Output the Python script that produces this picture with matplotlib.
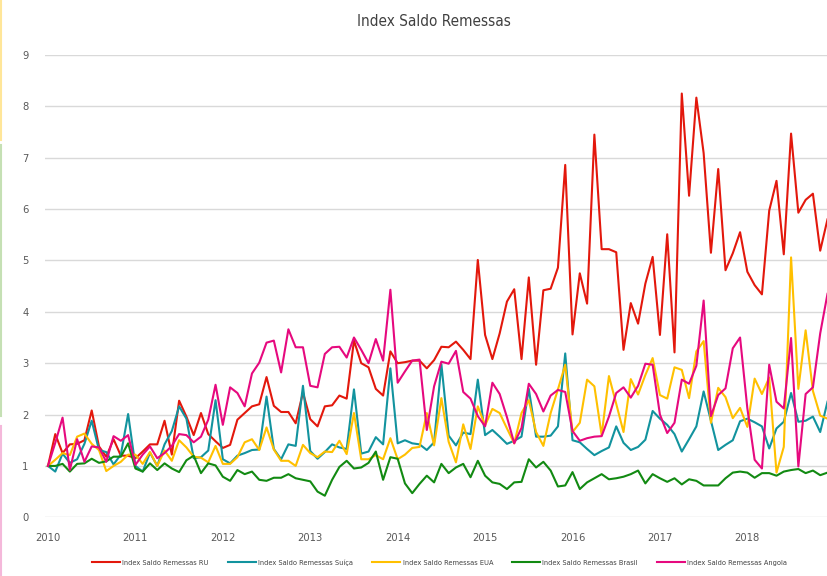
import matplotlib
matplotlib.use("Agg")
import matplotlib.pyplot as plt
from matplotlib.lines import Line2D
from matplotlib import font_manager

# valores mensais, jan 2010 - dez 2018
ru = [1.00, 1.62, 1.25, 1.42, 1.43, 1.50, 2.08, 1.38, 1.18, 1.52, 1.20, 1.20,
      1.15, 1.28, 1.42, 1.42, 1.88, 1.22, 2.27, 1.96, 1.60, 2.03, 1.62, 1.48,
      1.35, 1.41, 1.90, 2.03, 2.16, 2.20, 2.73, 2.17, 2.05, 2.05, 1.83, 2.43,
      1.91, 1.77, 2.16, 2.18, 2.37, 2.31, 3.44, 3.00, 2.92, 2.50, 2.37, 3.23,
      3.00, 3.02, 3.05, 3.05, 2.90, 3.06, 3.32, 3.31, 3.42, 3.26, 3.08, 5.01,
      3.55, 3.08, 3.58, 4.20, 4.44, 3.08, 4.67, 2.97, 4.42, 4.45, 4.86, 6.86,
      3.56, 4.75, 4.16, 7.45, 5.22, 5.22, 5.16, 3.26, 4.17, 3.77, 4.55, 5.07,
      3.55, 5.51, 3.21, 8.25, 6.26, 8.17, 7.09, 5.15, 6.78, 4.81, 5.14, 5.55,
      4.78, 4.52, 4.34, 5.97, 6.55, 5.12, 7.47, 5.93, 6.18, 6.30, 5.19, 5.80]
suica = [1.00, 0.89, 1.24, 1.06, 1.13, 1.43, 1.88, 1.31, 1.27, 1.03, 1.22, 2.01,
         1.00, 0.89, 1.26, 1.00, 1.42, 1.68, 2.16, 1.92, 1.15, 1.17, 1.30, 2.28,
         1.13, 1.05, 1.20, 1.25, 1.31, 1.32, 2.35, 1.33, 1.13, 1.42, 1.39, 2.56,
         1.29, 1.14, 1.27, 1.42, 1.36, 1.33, 2.49, 1.24, 1.28, 1.56, 1.42, 2.90,
         1.44, 1.50, 1.44, 1.42, 1.31, 1.46, 2.98, 1.59, 1.40, 1.65, 1.62, 2.68,
         1.60, 1.70, 1.57, 1.43, 1.49, 1.57, 2.50, 1.57, 1.57, 1.59, 1.77, 3.19,
         1.50, 1.46, 1.33, 1.21, 1.29, 1.36, 1.77, 1.45, 1.31, 1.37, 1.51, 2.07,
         1.92, 1.80, 1.62, 1.28, 1.52, 1.77, 2.45, 1.88, 1.31, 1.41, 1.50, 1.87,
         1.92, 1.85, 1.77, 1.34, 1.73, 1.86, 2.42, 1.86, 1.88, 1.96, 1.66, 2.25]
eua = [1.00, 1.12, 1.25, 1.21, 1.57, 1.63, 1.43, 1.31, 0.90, 1.00, 1.08, 1.22,
       1.22, 1.04, 1.27, 1.00, 1.30, 1.10, 1.50, 1.36, 1.18, 1.16, 1.07, 1.39,
       1.04, 1.04, 1.17, 1.46, 1.52, 1.31, 1.75, 1.32, 1.10, 1.10, 1.00, 1.41,
       1.25, 1.17, 1.28, 1.27, 1.49, 1.23, 2.03, 1.13, 1.13, 1.21, 1.13, 1.54,
       1.13, 1.22, 1.35, 1.37, 2.03, 1.40, 2.32, 1.47, 1.07, 1.81, 1.33, 2.16,
       1.79, 2.11, 2.03, 1.73, 1.44, 2.03, 2.28, 1.66, 1.39, 2.03, 2.49, 2.97,
       1.66, 1.84, 2.68, 2.55, 1.60, 2.75, 2.21, 1.66, 2.69, 2.39, 2.77, 3.10,
       2.38, 2.31, 2.92, 2.87, 2.32, 3.23, 3.43, 1.84, 2.52, 2.34, 1.93, 2.13,
       1.76, 2.70, 2.40, 2.72, 0.87, 1.37, 5.06, 2.50, 3.64, 2.46, 1.98, 1.92]
brasil = [1.00, 1.00, 1.04, 0.89, 1.04, 1.05, 1.14, 1.06, 1.09, 1.18, 1.18, 1.44,
          0.95, 0.89, 1.05, 0.92, 1.05, 0.95, 0.88, 1.11, 1.20, 0.86, 1.05, 1.01,
          0.79, 0.71, 0.92, 0.84, 0.89, 0.73, 0.71, 0.77, 0.77, 0.84, 0.76, 0.73,
          0.70, 0.50, 0.42, 0.73, 0.98, 1.10, 0.95, 0.97, 1.06, 1.28, 0.73, 1.17,
          1.14, 0.66, 0.47, 0.65, 0.81, 0.68, 1.04, 0.86, 0.97, 1.04, 0.78, 1.10,
          0.81, 0.68, 0.65, 0.55, 0.68, 0.69, 1.13, 0.97, 1.08, 0.91, 0.60, 0.62,
          0.88, 0.55, 0.68, 0.76, 0.84, 0.74, 0.76, 0.79, 0.84, 0.91, 0.66, 0.84,
          0.76, 0.69, 0.76, 0.64, 0.74, 0.71, 0.62, 0.62, 0.62, 0.76, 0.87, 0.89,
          0.87, 0.77, 0.86, 0.86, 0.81, 0.89, 0.92, 0.94, 0.86, 0.91, 0.82, 0.87]
angola = [1.00, 1.45, 1.94, 0.92, 1.52, 1.08, 1.38, 1.36, 1.08, 1.58, 1.49, 1.60,
          1.02, 1.22, 1.38, 1.15, 1.25, 1.39, 1.62, 1.60, 1.46, 1.57, 1.90, 2.58,
          1.80, 2.53, 2.42, 2.16, 2.80, 3.01, 3.40, 3.44, 2.82, 3.66, 3.31, 3.31,
          2.56, 2.53, 3.18, 3.31, 3.32, 3.11, 3.50, 3.26, 3.00, 3.47, 3.05, 4.43,
          2.62, 2.84, 3.05, 3.07, 1.70, 2.55, 3.03, 2.99, 3.24, 2.44, 2.31, 1.97,
          1.77, 2.62, 2.40, 1.95, 1.44, 1.74, 2.60, 2.40, 2.06, 2.37, 2.48, 2.44,
          1.68, 1.49, 1.54, 1.57, 1.58, 1.96, 2.42, 2.53, 2.33, 2.56, 2.99, 2.97,
          2.00, 1.64, 1.84, 2.68, 2.60, 2.95, 4.22, 1.97, 2.38, 2.51, 3.29, 3.50,
          2.12, 1.12, 0.95, 2.97, 2.25, 2.12, 3.49, 0.99, 2.40, 2.53, 3.58, 4.35]

anos = ['2010', '2011', '2012', '2013', '2014', '2015', '2016', '2017', '2018']
nomes = ['Index Saldo Remessas RU', 'Index Saldo Remessas Suíça', 'Index Saldo Remessas EUA',
         'Index Saldo Remessas Brasil', 'Index Saldo Remessas Angola']
cores = ['#E3180C', '#12939E', '#FFC000', '#128A12', '#E6097E']

# procura uma fonte estreita (condensed / narrow)
estreita = None
for f in font_manager.fontManager.ttflist:
    nome_f = f.name.lower()
    if ('narrow' in nome_f or 'condensed' in nome_f or
            str(f.stretch) in ('condensed', 'semi-condensed', 'extra-condensed', '700', '600')):
        if f.weight in ('normal', 400, 'regular', 'book') and f.style == 'normal':
            estreita = f.fname
            break

if estreita:
    fp_titulo = font_manager.FontProperties(fname=estreita, size=11)
    fp_ticks = font_manager.FontProperties(fname=estreita, size=8)
    fp_leg = font_manager.FontProperties(fname=estreita, size=5.3)
else:
    fp_titulo = font_manager.FontProperties(family='DejaVu Sans', size=9)
    fp_ticks = font_manager.FontProperties(family='DejaVu Sans', size=7)
    fp_leg = font_manager.FontProperties(family='DejaVu Sans', size=4.8)

fig = plt.figure(figsize=(8.28, 5.76), dpi=100)
ax = fig.add_axes([45/828, 58.7/576, 783/828, 462.3/576])

x = list(range(len(ru)))
for serie, nome, cor in zip([ru, suica, eua, brasil, angola], nomes, cores):
    ax.plot(x, serie, color=cor, lw=1.5, label=nome)

ax.set_xlim(-0.41, 107.07)
ax.set_ylim(0, 9)
ax.set_yticks(range(0, 10))
ax.set_xticks([12*i for i in range(len(anos))])
ax.set_xticklabels(anos)
for t in ax.get_xticklabels() + ax.get_yticklabels():
    t.set_fontproperties(fp_ticks)
ax.grid(axis='y', color='#D9D9D9', lw=1)
ax.set_axisbelow(True)
for s in ax.spines.values():
    s.set_visible(False)
ax.tick_params(axis='both', length=0, colors='#595959')
ax.tick_params(axis='y', pad=12)
ax.tick_params(axis='x', pad=11)

fig.text(0.524, 0.962, 'Index Saldo Remessas', ha='center', va='center',
         fontproperties=fp_titulo, color='#404040')

fig.legend(loc='center', bbox_to_anchor=(0.531, 0.023), ncol=5, frameon=False,
           prop=fp_leg, handlelength=3.8, handletextpad=0.3, columnspacing=2.6,
           labelcolor='#404040')

# restos de outros graficos na borda esquerda
fig.add_artist(Line2D([0.001, 0.001], [1.0, 1 - 140/576], color='#FFE699', lw=1.5))
fig.add_artist(Line2D([0.001, 0.001], [1 - 145/576, 1 - 416/576], color='#C5E0B4', lw=1.5))
fig.add_artist(Line2D([0.001, 0.001], [1 - 426/576, 0.0], color='#F4B8DA', lw=1.5))

plt.savefig('out.png', dpi=100)
